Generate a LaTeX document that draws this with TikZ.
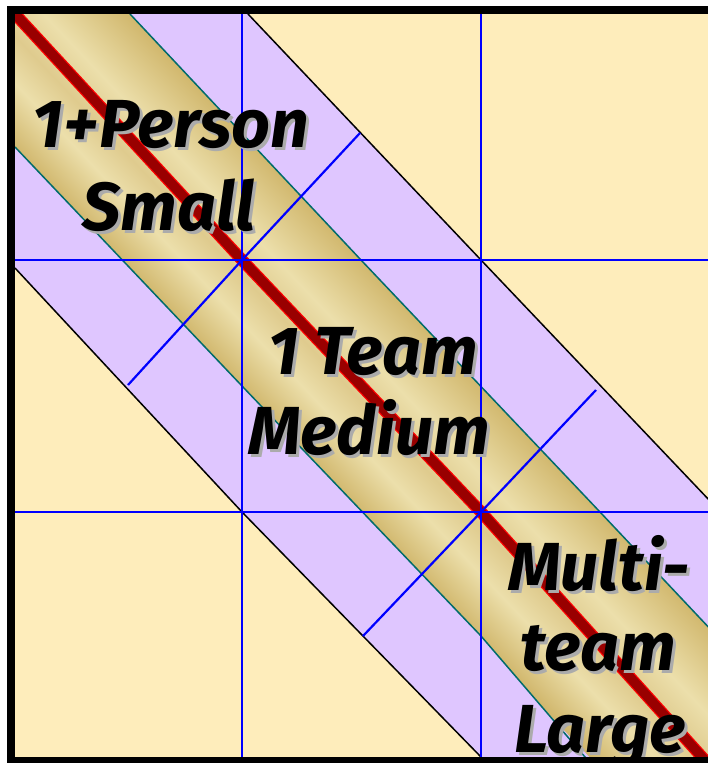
\documentclass[tikz,border=0pt]{standalone}
\usepackage{fontspec}
\setmainfont{Fira Sans}
\definecolor{cream}{HTML}{FEEDBB}
\definecolor{lav}{HTML}{DFC6FF}
\definecolor{gd}{HTML}{D0B66B}
\definecolor{gm}{HTML}{DFCB8E}
\definecolor{gl}{HTML}{ECDFAB}
\definecolor{darkred}{HTML}{990000}
\definecolor{tealedge}{HTML}{006B6B}
\definecolor{shadowgray}{HTML}{ABABAB}
\pgfdeclarehorizontalshading{goldband}{100bp}{color(0bp)=(gd); color(25bp)=(gd); color(38bp)=(gl); color(47bp)=(gm); color(57bp)=(gl); color(75bp)=(gd); color(100bp)=(gd)}
\tikzset{
  gridline/.style={blue, line width=2.2},
  lavedge/.style={black, line width=1.5},
  goldedge/.style={tealedge, line width=1.5},
  lbl/.style={font=\bfseries\itshape\fontsize{68}{80}\selectfont, inner sep=0pt, anchor=base, text=black},
  lblshadow/.style={lbl, text=shadowgray, xshift=3pt, yshift=-3pt},
}
\begin{document}
\begin{tikzpicture}[x=1pt,y=-1pt]
\useasboundingbox (0,0) rectangle (708,763);
\clip (0,0) rectangle (708,763);
% key points
\coordinate (o) at (15,14);
\coordinate (c1) at (242,260);
\coordinate (c2) at (481,512);
\coordinate (rend) at (713,769);
\begin{scope}
\clip (15,14) rectangle (716,761);
\fill[cream] (0,0) rectangle (730,780);
% lavender band
\fill[lav] (15,14) -- (248,14) -- (481,260) -- (730,522) -- (730,780) -- (503,780) -- (481,757) -- (242,512) -- (15,268) -- cycle;
% gold band
\begin{scope}
\clip (15,14) -- (130,14) -- (361,260) -- (600,512) -- (730,650) -- (730,780) -- (607,780) -- (585,757) -- (481,636) -- (242,386) -- (15,147) -- cycle;
\shade[shading=goldband, transform canvas={shift={(242,260)}, rotate=43.5}] (-90,-900) rectangle (90,900);
\end{scope}
% band edges
\draw[lavedge] (248,14) -- (481,260) -- (730,522);
\draw[lavedge] (15,268) -- (242,512) -- (481,757) -- (503,780);
\draw[goldedge] (130,14) -- (361,260) -- (600,512) -- (730,650);
\draw[goldedge] (15,147) -- (242,386) -- (481,636) -- (585,757) -- (607,780);
% red diagonal
\draw[red, line width=12, line join=round] (o) -- (c1) -- (c2) -- (702,757) -- (rend);
\draw[darkred, line width=9.5, line join=round] (o) -- (c1) -- (c2) -- (702,757) -- (rend);
% blue grid
\draw[gridline] (242,0) -- (242,780);
\draw[gridline] (481,0) -- (481,780);
\draw[gridline] (0,260) -- (730,260);
\draw[gridline] (0,512) -- (730,512);
\draw[gridline] (360,133) -- (c1) -- (128,385);
\draw[gridline] (596,390) -- (c2) -- (363,636);
% labels
\node[lblshadow] at (171,147) {1+Person};
\node[lbl] (person) at (171,147) {1+Person};
\node[lblshadow] at (169,230) {Small};
\node[lbl] (small) at (169,230) {Small};
\node[lblshadow] at (373,374) {1 Team};
\node[lbl] (team) at (373,374) {1 Team};
\node[lblshadow] at (369,454) {Medium};
\node[lbl] (medium) at (369,454) {Medium};
\node[lblshadow] at (599,590) {Multi-};
\node[lbl] (multi) at (599,590) {Multi-};
\node[lblshadow] at (598,670) {team};
\node[lbl] (teamb) at (598,670) {team};
\node[lblshadow] at (600,752) {Large};
\node[lbl] (large) at (600,752) {Large};
\end{scope}
% frame
\draw[black, line width=8] (11,10) rectangle (716,761);
\end{tikzpicture}
\end{document}
